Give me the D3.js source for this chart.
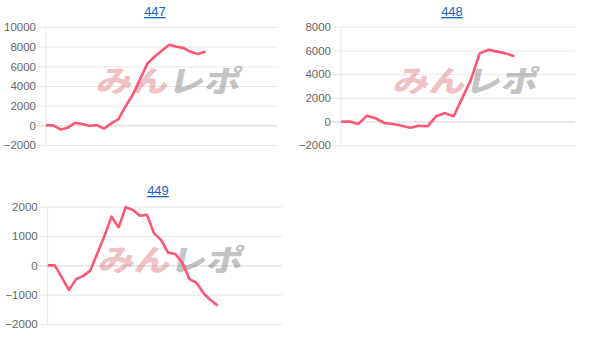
<!DOCTYPE html>
<html>
<head>
<meta charset="utf-8">
<script src="https://cdn.jsdelivr.net/npm/d3@7"></script>
<style>
  body { margin: 0; background: #fff; }
  svg { display: block; font-family: Arial, "Liberation Sans", sans-serif; }
  .title { fill: #1565c8; font-size: 13px; text-decoration: underline; }
  .tick text { fill: #666; font-size: 11.5px; }
</style>
</head>
<body>
<script>
// one chart per machine number; x is just the slot index
const titles = ["447", "448", "449"];
const slotCounts = [33, 28, 34];
const values447 = [0, 0, -420, -240, 250, 130, -70, 30, -340, 200, 640, 1970, 3150, 4750, 6300, 7000, 7600, 8200, 8000, 7850, 7450, 7250, 7500];
const values448 = [0, 0, -200, 500, 280, -120, -200, -350, -520, -350, -400, 480, 700, 450, 2000, 3550, 5750, 6050, 5900, 5750, 5500];
const values449 = [0, 0, -420, -845, -470, -360, -180, 410, 1000, 1660, 1300, 1980, 1890, 1690, 1720, 1090, 860, 430, 390, 80, -470, -600, -960, -1190, -1380];
const ticks447 = [-2000, 0, 2000, 4000, 6000, 8000, 10000];
const ticks448 = [-2000, 0, 2000, 4000, 6000, 8000];
const ticks449 = [-2000, -1000, 0, 1000, 2000];

const series = [values447, values448, values449];
const tickSets = [ticks447, ticks448, ticks449];

const boxes = [
    {left: 46, right: 278, top: 27, bottom: 145, titleX: 155, titleY: 16, wmX: 170, wmY: 79},
    {left: 341, right: 575, top: 26.7, bottom: 145.3, titleX: 452, titleY: 16, wmX: 467, wmY: 79},
    {left: 47.7, right: 281.7, top: 206.7, bottom: 324, titleX: 158, titleY: 195, wmX: 172, wmY: 258}
];

const svg = d3.select("body").append("svg")
    .attr("width", 604)
    .attr("height", 346);

boxes.forEach((b, k) => {
    const vals = series[k];
    const ticks = tickSets[k];
    const x = d3.scalePoint()
        .domain(d3.range(slotCounts[k]))
        .range([b.left, b.right]);
    const y = d3.scaleLinear()
        .domain([d3.min(ticks), d3.max(ticks)])
        .range([b.bottom, b.top]);

    const g = svg.append("g");

    // y axis with full-width grid
    const ax = g.append("g")
        .attr("transform", "translate(" + b.left + ",0)")
        .call(d3.axisLeft(y).tickValues(ticks).tickSize(-(b.right - b.left)).tickPadding(10).tickFormat(d3.format("d")));
    ax.select(".domain").remove();
    ax.selectAll(".tick line")
        .attr("x1", -9)
        .attr("stroke", d => d === 0 ? "#d4d4d4" : "#e8e8e8");

    // left edge line
    g.append("line")
        .attr("x1", b.left).attr("x2", b.left)
        .attr("y1", b.top).attr("y2", b.bottom + 2)
        .attr("stroke", "#e8e8e8");

    // watermark
    const wm = g.append("text")
        .attr("transform", "translate(" + b.wmX + "," + b.wmY + ") skewX(-12)")
        .attr("text-anchor", "middle")
        .attr("dominant-baseline", "central")
        .attr("font-family", "'Noto Sans CJK JP', sans-serif")
        .attr("font-weight", "900")
        .attr("font-size", 30)
        .attr("textLength", 144)
        .attr("lengthAdjust", "spacingAndGlyphs");
    wm.append("tspan").attr("fill", "rgba(214,90,100,0.38)").text("みん");
    wm.append("tspan").attr("fill", "rgba(120,120,120,0.45)").text("レポ");

    g.append("path")
        .datum(vals)
        .attr("fill", "none")
        .attr("stroke", "#ff5673")
        .attr("stroke-width", 2.6)
        .attr("stroke-linejoin", "round")
        .attr("d", d3.line().x((d, i) => x(i)).y(d => y(d)));

    g.append("a")
        .attr("href", "#")
        .append("text")
        .attr("class", "title")
        .attr("x", b.titleX)
        .attr("y", b.titleY)
        .attr("text-anchor", "middle")
        .text(titles[k]);
});
</script>
</body>
</html>
